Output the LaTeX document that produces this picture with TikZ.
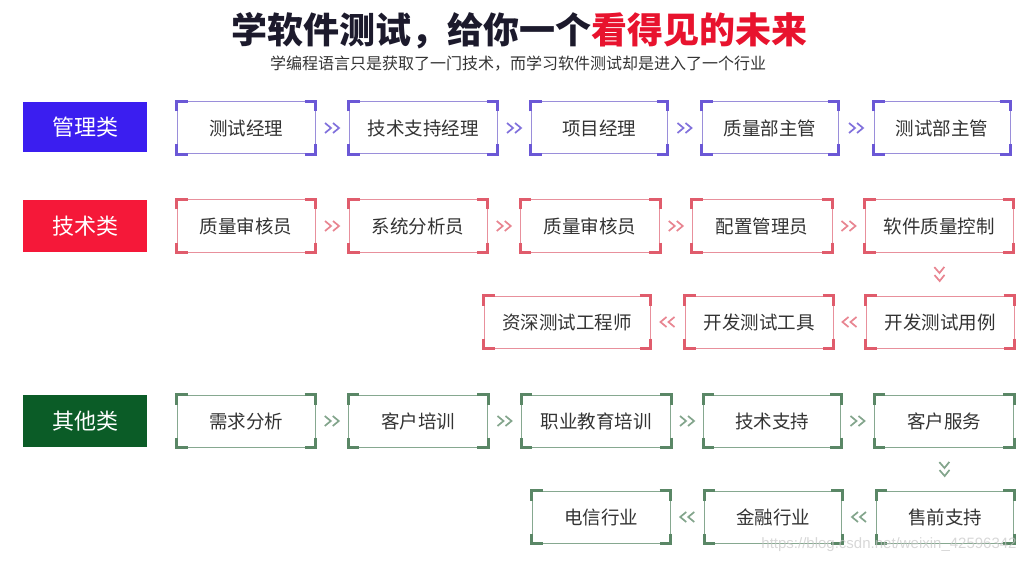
\documentclass[tikz,border=0pt]{standalone}
\usepackage{fontspec}
\usetikzlibrary{calc}
\newfontfamily\cjk{Noto Sans CJK SC}
\newfontfamily\wmfont{Liberation Sans}

\definecolor{mgrblue}{HTML}{3B1EF0}
\definecolor{mgrline}{HTML}{9A8EDA}
\definecolor{mgrcorner}{HTML}{6B58D6}
\definecolor{techred}{HTML}{F51839}
\definecolor{techline}{HTML}{E8909C}
\definecolor{techcorner}{HTML}{E05C6C}
\definecolor{othgreen}{HTML}{0B5C27}
\definecolor{othline}{HTML}{86A890}
\definecolor{othcorner}{HTML}{5A8766}
\definecolor{titledark}{HTML}{1C1A2C}
\definecolor{titlered}{HTML}{E8132E}
\definecolor{boxtext}{HTML}{333333}

\tikzset{
  category/.style={minimum width=124, minimum height=50, inner sep=0pt,
    text=white, font=\cjk\fontsize{22}{22}\selectfont},
  jobbox/.style={draw=#1, line width=1pt, minimum height=52, inner sep=0pt,
    text=boxtext, font=\cjk\fontsize{18.5}{18.5}\selectfont},
  bracket/.style={line width=3pt, #1},
  chevs/.pic={
    \draw[line width=1.7pt, #1] (-7,-5) -- (-1,0) -- (-7,5)
      (1,-5) -- (7,0) -- (1,5);
  },
  chevpos/.style={pos=0.5, sloped, allow upside down}
}

\begin{document}
\begin{tikzpicture}[x=1pt,y=-1pt]
  \useasboundingbox (0,0) rectangle (1032,561);

  % heading
  \node[font=\cjk\bfseries\fontsize{36}{36}\selectfont] (title) at (519,31)
    {\textcolor{titledark}{学软件测试，给你一个}\textcolor{titlered}{看得见的未来}};
  \node[font=\cjk\fontsize{16}{16}\selectfont, text=boxtext] (subtitle) at (518,64)
    {学编程语言只是获取了一门技术，而学习软件测试却是进入了一个行业};

  % categories
  \node[category, fill=mgrblue] (mgr) at (85,127) {管理类};
  \node[category, fill=techred, minimum height=52] (tech) at (85,226) {技术类};
  \node[category, fill=othgreen, minimum height=52] (oth) at (85,421) {其他类};

  % management row
  \node[jobbox=mgrline, minimum width=138] (m1) at (246,128) {测试经理};
  \node[jobbox=mgrline, minimum width=148] (m2) at (423,128) {技术支持经理};
  \node[jobbox=mgrline, minimum width=136] (m3) at (599,128) {项目经理};
  \node[jobbox=mgrline, minimum width=136] (m4) at (770,128) {质量部主管};
  \node[jobbox=mgrline, minimum width=136] (m5) at (942,128) {测试部主管};

  % technical rows
  \node[jobbox=techline, minimum width=138] (t1) at (246,226) {质量审核员};
  \node[jobbox=techline, minimum width=138] (t2) at (418,226) {系统分析员};
  \node[jobbox=techline, minimum width=139] (t3) at (590,226) {质量审核员};
  \node[jobbox=techline, minimum width=140] (t4) at (762,226) {配置管理员};
  \node[jobbox=techline, minimum width=148] (t5) at (939,226) {软件质量控制};
  \node[jobbox=techline, minimum width=148] (t6) at (940,322) {开发测试用例};
  \node[jobbox=techline, minimum width=148] (t7) at (759,322) {开发测试工具};
  \node[jobbox=techline, minimum width=166] (t8) at (567,322) {资深测试工程师};

  % other rows
  \node[jobbox=othline, minimum width=138] (o1) at (246,421) {需求分析};
  \node[jobbox=othline, minimum width=139] (o2) at (418,421) {客户培训};
  \node[jobbox=othline, minimum width=149] (o3) at (596,421) {职业教育培训};
  \node[jobbox=othline, minimum width=137] (o4) at (772,421) {技术支持};
  \node[jobbox=othline, minimum width=139] (o5) at (944,421) {客户服务};
  \node[jobbox=othline, minimum width=137] (o6) at (945,517) {售前支持};
  \node[jobbox=othline, minimum width=137] (o7) at (773,517) {金融行业};
  \node[jobbox=othline, minimum width=138] (o8) at (601,517) {电信行业};

  % corner brackets
  \foreach \n/\c in {m1/mgrcorner,m2/mgrcorner,m3/mgrcorner,m4/mgrcorner,m5/mgrcorner,
      t1/techcorner,t2/techcorner,t3/techcorner,t4/techcorner,t5/techcorner,
      t6/techcorner,t7/techcorner,t8/techcorner,
      o1/othcorner,o2/othcorner,o3/othcorner,o4/othcorner,o5/othcorner,
      o6/othcorner,o7/othcorner,o8/othcorner}{
    \draw[bracket=\c] ($(\n.north west)+(0,10)$) -- (\n.north west) -- ++(11,0);
    \draw[bracket=\c] ($(\n.north east)+(-11,0)$) -- (\n.north east) -- ++(0,10);
    \draw[bracket=\c] ($(\n.south east)+(0,-10)$) -- (\n.south east) -- ++(-11,0);
    \draw[bracket=\c] ($(\n.south west)+(11,0)$) -- (\n.south west) -- ++(0,-10);
  }

  % chevrons
  \foreach \a/\b in {m1/m2,m2/m3,m3/m4,m4/m5}
    \path (\a.east) -- pic[chevpos] {chevs=mgrcorner!85} (\b.west);
  \foreach \a/\b in {t1/t2,t2/t3,t3/t4,t4/t5}
    \path (\a.east) -- pic[chevpos] {chevs=techcorner!75} (\b.west);
  \path (t5.south) -- pic[chevpos] {chevs=techcorner!75} (t6.north);
  \foreach \a/\b in {t6/t7,t7/t8}
    \path (\a.west) -- pic[chevpos] {chevs=techcorner!75} (\b.east);
  \foreach \a/\b in {o1/o2,o2/o3,o3/o4,o4/o5}
    \path (\a.east) -- pic[chevpos] {chevs=othcorner!75} (\b.west);
  \path (o5.south) -- pic[chevpos] {chevs=othcorner!75} (o6.north);
  \foreach \a/\b in {o6/o7,o7/o8}
    \path (\a.west) -- pic[chevpos] {chevs=othcorner!75} (\b.east);

  % watermark
  \node[font=\wmfont\fontsize{15}{15}\selectfont, text=gray!45, opacity=0.7] (mark)
    at (889,545) {https://blog.csdn.net/weixin\_42596342};
\end{tikzpicture}
\end{document}
